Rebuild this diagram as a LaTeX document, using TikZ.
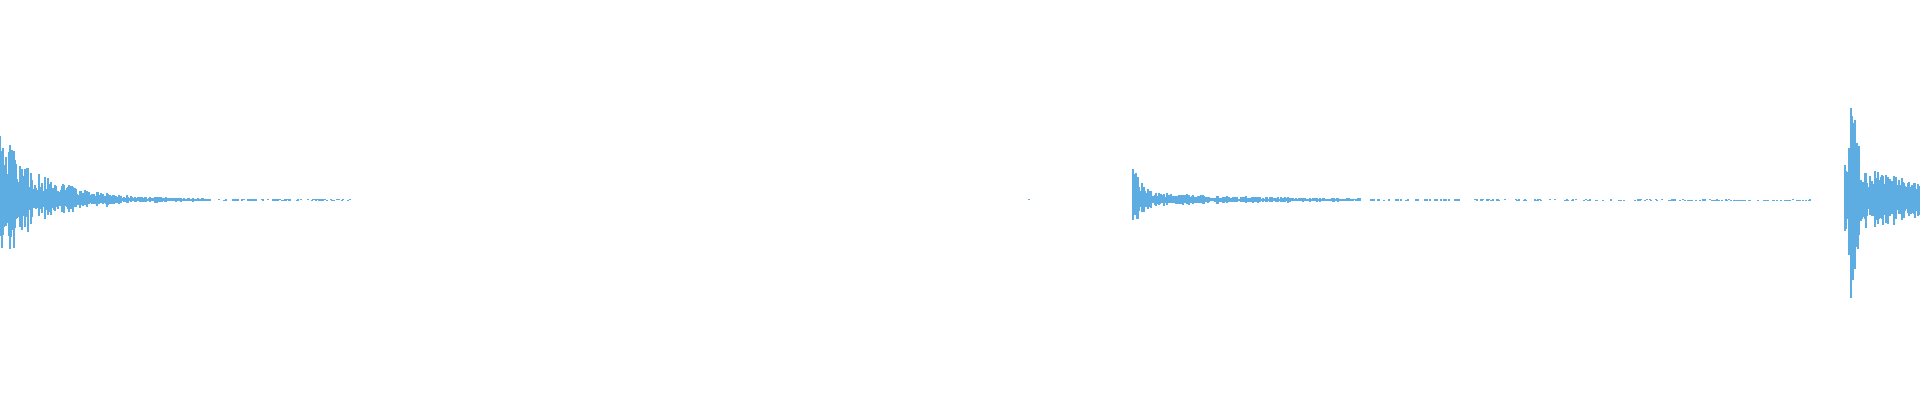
\documentclass[tikz,border=0pt]{standalone}
\begin{document}
\begin{tikzpicture}[x=0.01cm,y=0.01cm,wave/.style={draw={rgb,255:red,93;green,173;blue,226},line width=0.4pt}]
\fill[white] (0,0) rectangle (1920,400);
\useasboundingbox (0,0) rectangle (1920,400);
\pgfmathsetseed{7}
% burst 1
\foreach \i in {0,...,355}{
  \pgfmathsetmacro\e{65*exp(-\i/40)+5*exp(-\i/120)}
  \pgfmathsetmacro\a{(\e+0.6)*(0.25+0.75*rnd)}
  \pgfmathsetmacro\b{\a*(0.5+0.5*rnd)}
  \pgfmathsetmacro\k{(\e>1.2 || rnd<0.45) ? 1 : 0}
  \ifnum\k=1 \draw[wave] (\i,200+\a) -- (\i,200-\b);\fi
}
\draw[wave] (1029,199.5) -- (1029,200.5);
% burst 2
\foreach \i in {1133,...,1812}{
  \pgfmathsetmacro\e{32*exp(-(\i-1133)/8)+8*exp(-(\i-1133)/120)}
  \pgfmathsetmacro\a{(\e+0.6)*(0.25+0.75*rnd)}
  \pgfmathsetmacro\b{\a*(0.5+0.5*rnd)}
  \pgfmathsetmacro\k{(\e>1.2 || rnd<0.3) ? 1 : 0}
  \ifnum\k=1 \draw[wave] (\i,200+\a) -- (\i,200-\b);\fi
}
% burst 3
\foreach \i in {1845,...,1920}{
  \pgfmathsetmacro\a{(70*exp(-(\i-1852)^2/60)+28*exp(-(\i-1845)/60)+12)*(0.25+0.75*rnd)}
  \pgfmathsetmacro\b{\a*(0.6+0.5*rnd)}
  \draw[wave] (\i,200+\a) -- (\i,200-\b);
}
\end{tikzpicture}
\end{document}
